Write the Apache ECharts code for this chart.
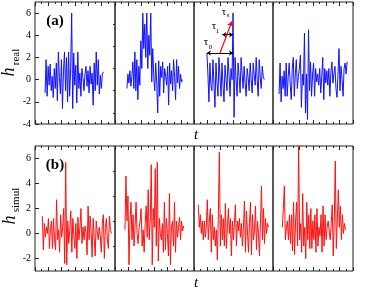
<!DOCTYPE html>
<html><head><meta charset="utf-8">
<script src="https://cdn.jsdelivr.net/npm/echarts@6/dist/echarts.min.js"></script>
<style>html,body{margin:0;padding:0;background:#fff}#c{width:374px;height:289px}</style>
</head><body><div id="c"></div>
<script>
// ---- data ----
const a1=[-1.2,1.8,-1.5,1.2,-0.5,1.4,-1.0,0.3,-1.6,1.0,-0.8,1.5,-1.9,2.5,0.2,-1.3,1.8,-2.6,0.8,2.5,-1.0,2.0,-2.0,2.5,-1.5,1.0,6.0,-2.6,2.4,-0.5,1.3,-2.1,2.5,-0.8,0.6,-1.5,1.0,0.2,-1.0,0.5,1.2,-0.6,0.8,-1.2,1.2,-0.4,0.6,-2.3,1.5,-1.0,2.5,-0.5,1.8,-1.3,0.4,-0.8,0.5,0.7];
const a2=[-0.8,0.5,-0.3,0.8,-0.6,0.3,1.6,-0.8,2.5,-1.0,1.8,-1.8,1.2,-0.5,3.5,1.0,6.0,2.8,5.0,2.0,6.0,1.0,4.0,2.2,6.0,-0.2,2.8,0.3,-1.0,1.5,-0.3,-3.0,1.7,-1.5,1.2,0.2,1.6,-1.2,1.0,0.3,-0.5,1.2,-2.3,1.5,-0.4,0.8,-1.0,1.8,0.2,-1.8,1.8,-0.3,1.2,-0.8,0.5,-0.2,0.0];
const a3=[2.4,0.5,-2.0,1.5,-0.5,-1.0,1.8,-0.3,-2.5,1.5,-0.2,-1.5,2.0,0.3,-1.5,1.5,-0.5,-2.0,1.3,0.0,-1.0,2.0,0.5,-1.5,1.0,0.0,6.0,-3.4,2.0,0.0,-1.5,1.5,0.3,-1.2,2.0,0.5,-0.8,1.2,-0.3,-1.5,1.0,0.2,-1.0,1.5,0.0,-1.2,1.5,0.4,-0.5,2.0,0.0,-1.5,1.8,0.2,-0.8,1.2,0.3,0.0];
const a4=[-1.3,1.5,-2.0,0.3,-0.8,0.8,-1.5,1.5,-1.5,0.3,1.5,-0.5,-1.8,1.0,2.0,-1.5,0.5,1.8,-0.8,0.3,1.0,2.2,-2.5,0.5,-0.5,4.2,-3.0,0.5,-3.6,4.5,-1.0,1.6,-1.5,0.5,1.5,-1.5,1.0,-0.2,0.5,-0.5,1.0,-1.2,0.3,2.0,-1.8,1.0,-0.3,0.8,-0.5,1.0,-1.5,0.6,1.6,-0.3,0.5,1.2,-0.8,-1.6,0.5,2.8,-1.0,1.2,0.0,-1.5,1.0,1.5,0.5,1.6];
const b1=[1.4,-1.3,0.8,-0.3,0.5,0.0,1.2,-1.2,0.3,1.0,-1.2,1.2,-0.5,-1.3,2.7,-0.5,0.3,-1.5,1.5,-0.3,0.5,2.0,-2.4,5.7,-2.5,1.0,-0.8,0.3,1.8,-1.5,1.2,-0.2,-1.2,0.8,-2.0,1.3,-0.5,0.5,2.0,-0.8,0.5,-0.5,0.6,0.0,-1.7,2.2,-0.5,1.4,0.2,-1.9,1.2,-0.3,-1.8,1.0,0.2,-0.5,0.5,-0.2,-1.5,0.8,1.5,-2.0,0.5,1.2,-0.5,-1.2,1.4,0.3,0.0];
const b2=[0.3,4.6,1.0,3.0,-2.5,1.0,2.5,-0.5,1.5,-1.0,0.5,2.5,0.0,-0.8,0.5,1.0,2.0,-1.0,0.3,-1.5,0.8,2.2,-0.3,3.5,-0.5,1.0,5.5,-2.5,2.0,0.5,5.2,-1.0,5.7,-2.2,1.2,0.0,-0.5,0.8,-1.5,2.5,-1.3,1.2,0.0,-1.8,3.2,-2.5,0.5,1.0,-1.0,2.5,-1.5,1.0,-0.3,0.5,1.3,-0.5,1.0,0.2,0.6];
const b3=[2.3,0.5,1.5,0.0,1.0,-0.5,1.0,-0.3,0.5,2.7,-0.5,1.0,2.0,-1.5,1.5,-0.5,0.5,-1.0,0.3,-2.1,1.5,6.5,-1.0,1.5,-0.5,1.2,-1.0,2.4,-1.2,0.5,2.0,0.0,1.2,-1.8,1.0,-0.5,0.8,2.3,-1.0,1.0,0.2,1.2,-0.3,0.8,-1.0,0.5,2.6,-1.5,1.8,0.2,-1.5,0.8,2.5,-1.7,1.5,-0.5,0.3,2.2,-1.3,1.0,0.0,-1.8,1.0,3.8,-0.5,2.0,-0.8,1.2,0.0,0.8,0.5];
const b4=[0.5,2.0,3.8,-0.5,0.5,1.0,-0.5,1.5,-0.8,1.5,-1.4,2.5,-1.7,1.0,2.5,-1.0,7.0,-0.5,0.8,-1.5,3.2,-1.0,0.5,-2.0,2.5,-0.5,1.5,-1.2,2.0,-1.2,1.0,-0.5,1.5,-1.5,2.0,-1.0,0.5,-0.2,1.5,-1.5,2.2,-1.0,1.5,-0.5,0.5,1.0,0.2,-0.5,0.8,2.3,-1.8,1.0,5.8,-1.2,1.0,3.5,0.5,2.2,-0.5,1.5,0.0,0.8,0.3];
const topYTicks=[-4,-2,0,2,4,6];
const topYMinor=[-3,-1,1,3,5];
const botYTicks=[-2,0,2,4,6];
const botYMinor=[-1,1,3,5];
const topSeries=[a1,a2,a3,a4];
const botSeries=[b1,b2,b3,b4];

// ---- layout ----
const edges=[35,115,194,273,353];
const spans=[[[1.51,10.26],[1.81,10.26],[1.96,10.67],[0.91,11.12]],
             [[1.10,11.47],[1.51,10.42],[0.65,11.32],[1.40,10.87]]];
const rows=[
  {top:2,height:122,min:-4,max:7,ticks:topYTicks,minor:topYMinor,color:'#1010ff',data:topSeries},
  {top:146,height:125,min:-3,max:7,ticks:botYTicks,minor:botYMinor,color:'#ff1010',data:botSeries}
];
const FONT='"Liberation Serif", "DejaVu Serif", serif';
const frame='#222';

const grid=[],xAxis=[],yAxis=[],series=[];
rows.forEach((r,ri)=>{
  for(let p=0;p<4;p++){
    const gi=grid.length;
    grid.push({left:edges[p],top:r.top,width:edges[p+1]-edges[p],height:r.height,show:true,borderColor:frame,borderWidth:1,backgroundColor:'transparent'});
    const xi=xAxis.length;
    ['bottom','top'].forEach(pos=>{
      xAxis.push({gridIndex:gi,type:'value',min:0,max:12,interval:2,position:pos,
        axisLine:{show:false,onZero:false},axisLabel:{show:false},splitLine:{show:false},
        axisTick:{show:true,inside:true,length:4,lineStyle:{color:frame}},
        minorTick:{show:true,splitNumber:2,length:2,lineStyle:{color:frame}},
        minorSplitLine:{show:false}});
    });
    const yi=yAxis.length;
    yAxis.push({gridIndex:gi,type:'value',min:r.min,max:r.max,
      axisLine:{show:false,onZero:false},splitLine:{show:false},
      axisTick:p===0?{show:true,inside:true,length:4,customValues:r.ticks,lineStyle:{color:frame}}:{show:false},
      axisLabel:p===0?{show:true,customValues:r.ticks,margin:4,fontFamily:FONT,fontSize:10,color:'#000'}:{show:false}});
    if(p===0){
      yAxis.push({gridIndex:gi,type:'value',min:r.min,max:r.max,
        axisLine:{show:false,onZero:false},splitLine:{show:false},axisLabel:{show:false},
        axisTick:{show:true,inside:true,length:2,customValues:r.minor,lineStyle:{color:frame}}});
    }
    const arr=r.data[p];
    const [s0,s1]=spans[ri][p];
    const s={type:'line',xAxisIndex:xi,yAxisIndex:yi,showSymbol:false,symbol:'none',animation:false,
      lineStyle:{width:1,color:r.color},
      data:arr.map((v,i)=>[s0+i*(s1-s0)/(arr.length-1),v])};
    if(ri===0&&p===2){
      let pk=0;arr.forEach((v,i)=>{if(v>arr[pk])pk=i;});
      const xStart=s0, xPeak=s0+pk*(s1-s0)/(arr.length-1);
      s.markLine={silent:true,animation:false,label:{show:false},symbolSize:4,
        data:[
          [{coord:[xStart,arr[0]],symbol:'arrow',lineStyle:{color:'#000',width:1,type:'solid'}},{coord:[xPeak,arr[0]],symbol:'arrow'}],
          [{coord:[4.3,4.05],symbol:'arrow',lineStyle:{color:'#000',width:1,type:'solid'}},{coord:[xPeak,4.05],symbol:'arrow'}],
          [{coord:[3.95,arr[0]],symbol:'none',lineStyle:{color:'#ff0000',width:1.2,type:'solid'}},{coord:[5.75,5.25],symbol:'arrow',symbolSize:5}]
        ]};
    }
    series.push(s);
  }
});

function txt(x,y,t,font,rot){
  return {type:'text',x:x,y:y,rotation:rot||0,silent:true,
    style:{text:t,font:font,fill:'#000',textAlign:'center',textVerticalAlign:'middle'}};
}
const graphic=[
  txt(55,21,'(a)','bold 15px '+FONT),
  txt(55,165,'(b)','bold 15px '+FONT),
  txt(196,135,'t','italic 15px '+FONT),
  txt(196,283,'t','italic 15px '+FONT),
  txt(9.5,72,'h','italic 18px '+FONT,Math.PI/2),
  txt(16,57,'real','11px '+FONT,Math.PI/2),
  txt(10,220,'h','italic 18px '+FONT,Math.PI/2),
  txt(16.5,200,'simul','11px '+FONT,Math.PI/2),
  txt(206,42,'τ','11px '+FONT), txt(210.5,47,'0','7px '+FONT),
  txt(214,26,'τ','11px '+FONT), txt(217.5,31,'1','7px '+FONT),
  txt(224,12,'τ','11px '+FONT), txt(228,15.5,'s','7px '+FONT)
];

const chart=echarts.init(document.getElementById('c'),null,{renderer:'canvas'});
chart.setOption({animation:false,grid,xAxis,yAxis,series,graphic});
</script></body></html>
